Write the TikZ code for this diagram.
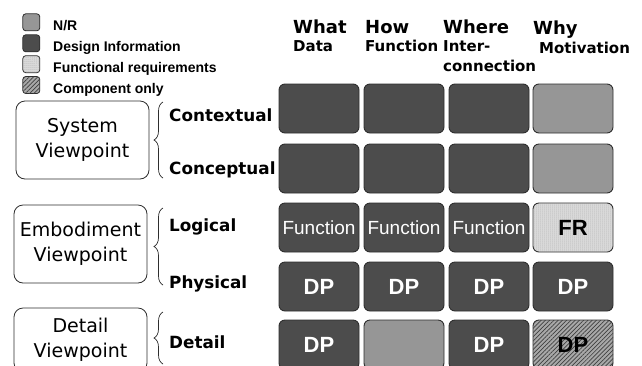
\documentclass[tikz,border=0pt]{standalone}
\usepackage{fontspec}
\newfontfamily\verd{DejaVu Sans}
\newfontfamily\arial{Liberation Sans}
\usetikzlibrary{patterns.meta,decorations.pathreplacing}
\definecolor{dinfo}{gray}{0.30}
\definecolor{nrgrey}{gray}{0.59}
\definecolor{frgrey}{gray}{0.88}
\definecolor{cogrey}{gray}{0.66}
\definecolor{edge}{gray}{0.18}
\tikzset{
  cell/.style={draw=edge,line width=0.9pt,rounded corners=6pt,minimum width=80pt,minimum height=49pt,inner sep=0pt},
  dicell/.style={cell,fill=dinfo,text=white},
  nrcell/.style={cell,fill=nrgrey},
  frcell/.style={cell,fill=frgrey,postaction={pattern={Dots[distance=2pt,radius=0.5pt]},pattern color=black!45}},
  cocell/.style={cell,fill=cogrey,postaction={pattern={Lines[angle=45,distance=3pt,line width=0.7pt]},pattern color=black!75}},
  fn/.style={font=\arial\fontsize{19}{21}\selectfont},
  dp/.style={font=\arial\bfseries\fontsize{22}{24}\selectfont},
  legbox/.style={draw=edge,line width=0.8pt,rounded corners=3pt,minimum size=17pt,inner sep=0pt},
  legtext/.style={anchor=base west,inner sep=0pt,font=\arial\bfseries\fontsize{14}{16}\selectfont},
  headbig/.style={anchor=base west,inner sep=0pt,font=\verd\bfseries\fontsize{18}{20}\selectfont},
  headsmall/.style={anchor=base west,inner sep=0pt,font=\verd\bfseries\fontsize{15}{17}\selectfont},
  rowlabel/.style={anchor=base west,inner sep=0pt,font=\verd\bfseries\fontsize{16.8}{20}\selectfont},
  vbox/.style={draw=edge,line width=0.8pt,rounded corners=9pt,minimum width=133pt,minimum height=78pt,align=center,font=\verd\fontsize{19}{25}\selectfont},
  curly/.style={draw=edge,line width=0.7pt,decorate,decoration={brace,amplitude=9pt}}
}
\begin{document}
\begin{tikzpicture}[x=1pt,y=-1pt]
\fill[white] (0,0) rectangle (642,365);
\clip (0,0) rectangle (642,365);
% --- legend ---
\node[legbox,fill=nrgrey] (lnr) at (31.3,22.3) {};
\node[legbox,fill=dinfo] (ldi) at (31.3,43.3) {};
\node[legbox,fill=frgrey,postaction={pattern={Dots[distance=2pt,radius=0.5pt]},pattern color=black!45}] (lfr) at (31.3,64.2) {};
\node[legbox,fill=cogrey,postaction={pattern={Lines[angle=45,distance=3pt,line width=0.7pt]},pattern color=black!75}] (lco) at (31.3,85.0) {};
\node[legtext] (tnr) at (53,30.5) {N/R};
\node[legtext] (tdi) at (53,51.5) {Design Information};
\node[legtext] (tfr) at (53,72.0) {Functional requirements};
\node[legtext] (tco) at (53,93.0) {Component only};
% --- column headers ---
\node[headbig] (hwhat) at (293,33) {What};
\node[headsmall] (hdata) at (293,51.5) {Data};
\node[headbig] (hhow) at (365,33) {How};
\node[headsmall] (hfunc) at (365,51.5) {Function};
\node[headbig] (hwhere) at (443,33) {Where};
\node[headsmall] (hinter) at (443,51.5) {Inter-};
\node[headsmall] (hconn) at (443,71) {connection};
\node[headbig] (hwhy) at (533,34.5) {Why};
\node[headsmall] (hmot) at (539,53.5) {Motivation};
% --- viewpoints ---
\node[vbox] (vsys) at (82.5,140) {System\\Viewpoint};
\node[vbox] (vemb) at (80.5,244) {Embodiment\\Viewpoint};
\node[vbox,minimum height=64pt] (vdet) at (80.5,340) {Detail\\Viewpoint};
\draw[curly] (163,178) -- (163,102);
\draw[curly] (163,285) -- (163,208);
\draw[curly] (163,364) -- (163,312);
% --- row labels ---
\node[rowlabel] (rctx) at (169,121) {Contextual};
\node[rowlabel] (rcon) at (169,174) {Conceptual};
\node[rowlabel] (rlog) at (169,231.5) {Logical};
\node[rowlabel] (rphy) at (169,288) {Physical};
\node[rowlabel] (rdet) at (169,348) {Detail};
% --- contextual ---
\node[dicell] (c11) at (319,108.5) {};
\node[dicell] (c12) at (404,108.5) {};
\node[dicell] (c13) at (489,108.5) {};
\node[nrcell] (c14) at (573,108.5) {};
% --- conceptual ---
\node[dicell] (c21) at (319,168.5) {};
\node[dicell] (c22) at (404,168.5) {};
\node[dicell] (c23) at (489,168.5) {};
\node[nrcell] (c24) at (573,168.5) {};
% --- logical ---
\node[dicell,fn] (c31) at (319,227.5) {Function};
\node[dicell,fn] (c32) at (404,227.5) {Function};
\node[dicell,fn] (c33) at (489,227.5) {Function};
\node[frcell,dp] (c34) at (573,227.5) {FR};
% --- physical ---
\node[dicell,dp] (c41) at (319,286.5) {DP};
\node[dicell,dp] (c42) at (404,286.5) {DP};
\node[dicell,dp] (c43) at (489,286.5) {DP};
\node[dicell,dp] (c44) at (573,286.5) {DP};
% --- detail ---
\node[dicell,dp] (c51) at (319,344.5) {DP};
\node[nrcell] (c52) at (404,344.5) {};
\node[dicell,dp] (c53) at (489,344.5) {DP};
\node[cocell,dp] (c54) at (573,344.5) {DP};
\end{tikzpicture}
\end{document}
